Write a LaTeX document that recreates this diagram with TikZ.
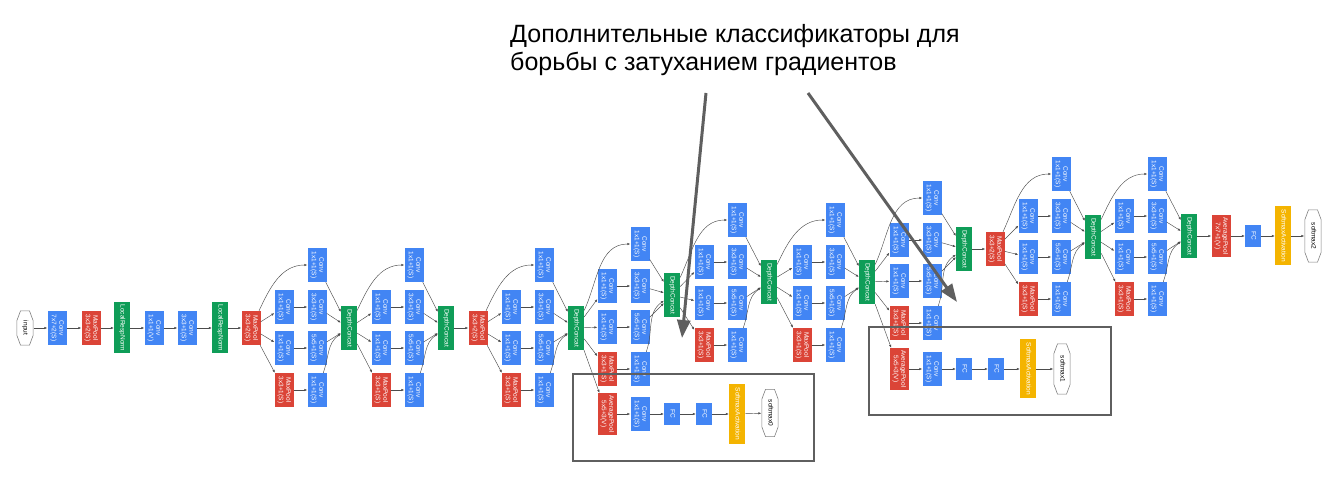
\documentclass[tikz,border=0pt]{standalone}
\usepackage{fontspec}
\setmainfont{Liberation Sans}
\usepackage{graphicx}
\usetikzlibrary{
  arrows.meta
}

\definecolor{convblue}{RGB}{66,133,244}
\definecolor{poolred}{RGB}{219,68,55}
\definecolor{catgreen}{RGB}{15,157,88}
\definecolor{actyellow}{RGB}{244,180,0}
\definecolor{annot}{RGB}{95,95,95}

\newcommand{\lbl}[1]{\rotatebox{-90}{\begin{tabular}{@{}c@{}}#1\end{tabular}}}

% one inception block: name, input node, x of first column, top row, concat row
\newcommand{\inception}[5]{
  \node[conv] (#1-p1) at (#3+33,#4) {\lbl{Conv\\1x1+1(S)}};
  \node[conv] (#1-r3) at (#3,#4+42) {\lbl{Conv\\1x1+1(S)}};
  \node[conv] (#1-c3) at (#3+33,#4+42) {\lbl{Conv\\3x3+1(S)}};
  \node[conv] (#1-r5) at (#3,#4+83) {\lbl{Conv\\1x1+1(S)}};
  \node[conv] (#1-c5) at (#3+33,#4+83) {\lbl{Conv\\5x5+1(S)}};
  \node[pool] (#1-mp) at (#3,#4+125) {\lbl{MaxPool\\3x3+1(S)}};
  \node[conv] (#1-pp) at (#3+33,#4+125) {\lbl{Conv\\1x1+1(S)}};
  \node[concat] (#1) at (#3+65,#5) {\lbl{DepthConcat}};
  \draw[link] (#2) to[out=65,in=180] (#1-p1);
  \draw[link] (#2) -- (#1-r3);
  \draw[link] (#2) -- (#1-r5);
  \draw[link] (#2) -- (#1-mp);
  \draw[link] (#1-r3) -- (#1-c3);
  \draw[link] (#1-r5) -- (#1-c5);
  \draw[link] (#1-mp) -- (#1-pp);
  \draw[link] (#1-p1) -- (#1);
  \draw[link] (#1-c3) -- (#1);
  \draw[link] (#1-c5) -- (#1);
  \draw[link] (#1-pp) to[out=70,in=215] (#1);
}

\begin{document}
\begin{tikzpicture}[
  x=1pt, y=-1pt,
  box/.style={inner sep=0pt, text=white, font=\fontsize{6.5}{7.5}\selectfont},
  conv/.style={box, fill=convblue, minimum width=19, minimum height=34},
  pool/.style={box, fill=poolred, minimum width=19, minimum height=34},
  avgpool/.style={box, fill=poolred, minimum width=19, minimum height=42},
  concat/.style={box, fill=catgreen, minimum width=16, minimum height=44},
  lrn/.style={box, fill=catgreen, minimum width=16, minimum height=51},
  fcbox/.style={box, fill=convblue, minimum width=16, minimum height=22},
  act/.style={box, fill=actyellow, minimum width=16, minimum height=59},
  octo/.style={inner sep=0pt, font=\fontsize{6.5}{7.5}\selectfont,
    minimum width=17, minimum height=#1,
    path picture={\draw[gray, line width=0.6pt]
      ([xshift=4pt,yshift=-.4pt]path picture bounding box.north west)
      -- ([xshift=-4pt,yshift=-.4pt]path picture bounding box.north east)
      -- ([xshift=-.4pt,yshift=-10pt]path picture bounding box.north east)
      -- ([xshift=-.4pt,yshift=10pt]path picture bounding box.south east)
      -- ([xshift=-4pt,yshift=.4pt]path picture bounding box.south east)
      -- ([xshift=4pt,yshift=.4pt]path picture bounding box.south west)
      -- ([xshift=.4pt,yshift=10pt]path picture bounding box.south west)
      -- ([xshift=.4pt,yshift=-10pt]path picture bounding box.north west)
      -- cycle;}},
  link/.style={draw=black!70, line width=0.45pt, -{Latex[length=3pt,width=2.4pt]}},
  frame/.style={draw=annot, line width=2.7pt},
  callout/.style={draw=annot, line width=3pt, -{Triangle[length=18pt,width=13pt]}},
  note/.style={inner sep=0pt, align=left, font=\fontsize{25}{28.5}\selectfont}
]
  \useasboundingbox (0,0) rectangle (1334,494);

  % stem
  \node[octo=35] (input) at (25,328) {\lbl{input}};
  \node[conv] (conv1) at (57,328) {\lbl{Conv\\7x7+2(S)}};
  \node[pool] (mp1) at (91,328) {\lbl{MaxPool\\3x3+2(S)}};
  \node[lrn] (lrn1) at (122,328) {\lbl{LocalRespNorm}};
  \node[conv] (conv2) at (154,328) {\lbl{Conv\\1x1+1(V)}};
  \node[conv] (conv3) at (187,328) {\lbl{Conv\\3x3+1(S)}};
  \node[lrn] (lrn2) at (220,328) {\lbl{LocalRespNorm}};
  \node[pool] (mp2) at (251,328) {\lbl{MaxPool\\3x3+2(S)}};
  \draw[link] (input) -- (conv1);
  \draw[link] (conv1) -- (mp1);
  \draw[link] (mp1) -- (lrn1);
  \draw[link] (lrn1) -- (conv2);
  \draw[link] (conv2) -- (conv3);
  \draw[link] (conv3) -- (lrn2);
  \draw[link] (lrn2) -- (mp2);

  % inception blocks
  \inception{i3a}{mp2}{284}{265}{328}
  \inception{i3b}{i3a}{381}{265}{328}
  \node[pool] (mp3) at (478,328) {\lbl{MaxPool\\3x3+2(S)}};
  \draw[link] (i3b) -- (mp3);
  \inception{i4a}{mp3}{511}{265}{328}
  \inception{i4b}{i4a}{607}{244}{295}
  \inception{i4c}{i4b}{704}{220}{282}
  \inception{i4d}{i4c}{802}{220}{282}
  \inception{i4e}{i4d}{899}{198}{249}
  \node[pool] (mp4) at (995,249) {\lbl{MaxPool\\3x3+2(S)}};
  \draw[link] (i4e) -- (mp4);
  \inception{i5a}{mp4}{1028}{174}{237}
  \inception{i5b}{i5a}{1124}{174}{236}

  % main head
  \node[avgpool] (avg2) at (1221,236) {\lbl{AveragePool\\7x7+1(V)}};
  \node[fcbox] (fc2) at (1253,236) {\lbl{FC}};
  \node[act] (act2) at (1283,236) {\lbl{SoftmaxActivation}};
  \node[octo=53] (out2) at (1313,236) {\lbl{softmax2}};
  \draw[link] (i5b) -- (avg2);
  \draw[link] (avg2) -- (fc2);
  \draw[link] (fc2) -- (act2);
  \draw[link] (act2) -- (out2);

  % auxiliary head 0
  \node[avgpool] (avg0) at (607,414) {\lbl{AveragePool\\5x5+3(V)}};
  \node[conv] (conv0) at (640,414) {\lbl{Conv\\1x1+1(S)}};
  \node[fcbox] (fc0a) at (672,414) {\lbl{FC}};
  \node[fcbox] (fc0b) at (704,414) {\lbl{FC}};
  \node[act] (act0) at (737,414) {\lbl{SoftmaxActivation}};
  \node[octo=48] (out0) at (770,413) {\lbl{softmax0}};
  \draw[link] (i4a) -- (avg0);
  \draw[link] (avg0) -- (conv0);
  \draw[link] (conv0) -- (fc0a);
  \draw[link] (fc0a) -- (fc0b);
  \draw[link] (fc0b) -- (act0);
  \draw[link] (act0) -- (out0);

  % auxiliary head 1
  \node[avgpool] (avg1) at (899,369) {\lbl{AveragePool\\5x5+3(V)}};
  \node[conv] (conv1x) at (932,369) {\lbl{Conv\\1x1+1(S)}};
  \node[fcbox] (fc1a) at (964,369) {\lbl{FC}};
  \node[fcbox] (fc1b) at (996,369) {\lbl{FC}};
  \node[act] (act1) at (1028,369) {\lbl{SoftmaxActivation}};
  \node[octo=51] (out1) at (1062,369) {\lbl{softmax1}};
  \draw[link] (i4d) -- (avg1);
  \draw[link] (avg1) -- (conv1x);
  \draw[link] (conv1x) -- (fc1a);
  \draw[link] (fc1a) -- (fc1b);
  \draw[link] (fc1b) -- (act1);
  \draw[link] (act1) -- (out1);

  % annotation
  \draw[frame] (573,374) rectangle (814,461);
  \draw[frame] (869,327) rectangle (1111,415);
  \node[note, anchor=north west] (note) at (510,24)
    {Дополнительные классификаторы для\\борьбы с затуханием градиентов};
  \coordinate (tail0) at (706,93);
  \coordinate (tip0) at (682,338);
  \coordinate (tail1) at (808,93);
  \coordinate (tip1) at (957,302);
  \draw[callout] (tail0) -- (tip0);
  \draw[callout] (tail1) -- (tip1);
\end{tikzpicture}
\end{document}
